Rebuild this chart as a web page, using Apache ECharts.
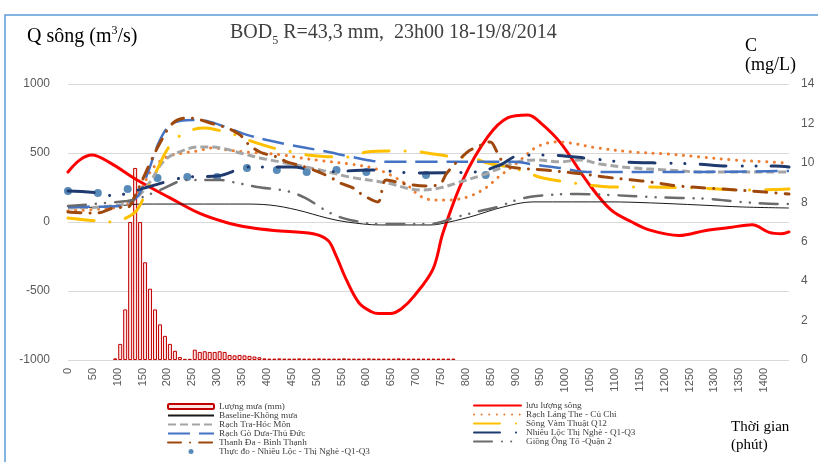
<!DOCTYPE html>
<html><head><meta charset="utf-8">
<script src="https://cdn.jsdelivr.net/npm/echarts@6/dist/echarts.min.js"></script>
<style>html,body{margin:0;padding:0;background:#fff}#c{width:818px;height:462px}</style>
</head><body><div id="c"></div>
<script>
// ---- tick labels ----
const xLabels = [0,50,100,150,200,250,300,350,400,450,500,550,600,650,700,750,800,850,900,950,1000,1050,1100,1150,1200,1250,1300,1350,1400];
const qTicks = [-1000,-500,0,500,1000];
const cTicks = [0,2,4,6,8,10,12,14];

// ---- rainfall (mm), centred in 10-minute bins ----
const rainT = [95,105,115,125,135,145,155,165,175,185,195,205,215,225,235,245,255,265,275,285,295,305,315,325,335,345,355,365,375,385,395,405,415,425,435,445,455,465,475,485,495,505,515,525,535,545,555,565,575,585,595,605,615,625,635,645,655,665,675,685,695,705,715,725,735,745,755,765,775];
const rainMM = [0.07,0.7,2.2,6.0,8.35,6.0,4.25,3.1,2.2,1.55,1.05,0.7,0.4,0.13,0.05,0.05,0.45,0.35,0.38,0.35,0.35,0.38,0.35,0.22,0.2,0.22,0.2,0.18,0.15,0.12,0.07,0.06,0.06,0.07,0.06,0.06,0.06,0.07,0.06,0.06,0.06,0.07,0.06,0.06,0.06,0.06,0.07,0.06,0.06,0.06,0.06,0.07,0.06,0.06,0.06,0.06,0.06,0.07,0.06,0.06,0.06,0.06,0.06,0.06,0.06,0.06,0.06,0.06,0.06];

// ---- river discharge Q (m3/s) ----
const redT = [0,24,48,84,139,205,265,320,366,414,493,523,539,560,585,610,625,648,670,696,734,754,794,844,884,925,951,991,1046,1092,1134,1172,1229,1283,1330,1376,1410,1435,1450];
const redQ = [362,450,485,430,304,175,62,-5,-40,-61,-85,-134,-244,-420,-585,-650,-663,-663,-630,-537,-341,-80,304,616,754,775,717,572,283,87,0,-61,-98,-61,-40,-20,-75,-85,-72];

// ---- BOD5 concentrations (mg/L) ----
const baseT = [0,64,119,145,249,350,406,461,521,561,628,728,748,809,875,935,1090,1171,1271,1358,1450];
const baseC = [7.71,7.76,7.86,7.91,7.91,7.91,7.86,7.61,7.20,7.00,6.85,6.85,6.90,7.26,7.76,8.02,8.02,7.97,7.86,7.76,7.71];

const langT = [0,64,115,145,171,199,231,259,292,320,360,432,467,513,567,613,648,682,708,734,768,809,843,863,903,943,984,1010,1064,1136,1205,1271,1337,1406,1450];
const langC = [7.56,7.66,7.86,8.62,9.74,10.30,10.50,10.60,10.76,10.65,10.55,10.40,10.25,10.10,9.94,9.74,9.39,8.88,8.32,8.12,8.12,8.32,8.78,9.23,9.99,10.81,11.06,11.01,10.76,10.55,10.45,10.30,10.15,10.05,9.99];

const traT = [0,105,139,165,191,219,265,306,346,386,426,507,567,642,708,748,788,835,875,903,943,990,1030,1070,1136,1205,1271,1450];
const traC = [7.71,7.86,8.27,9.03,10.05,10.50,10.81,10.76,10.50,10.25,10.05,9.64,9.28,8.98,8.62,8.73,9.03,9.39,9.79,10.05,10.15,10.05,10.15,9.94,9.74,9.64,9.54,9.54];

const vamT = [0,60,91,121,139,159,179,199,219,249,276,300,326,362,412,451,481,541,567,601,658,692,722,778,813,843,895,925,955,1016,1044,1090,1136,1255,1376,1450];
const vamC = [7.20,7.05,7.00,7.26,7.61,8.62,9.64,10.65,11.26,11.67,11.77,11.67,11.52,11.16,10.76,10.55,10.40,10.30,10.30,10.55,10.60,10.60,10.50,10.30,10.25,9.99,9.74,9.49,9.23,8.98,8.88,8.78,8.78,8.73,8.62,8.68];

const goduaT = [0,105,139,159,185,211,251,286,332,360,400,447,513,571,613,662,728,843,895,943,990,1044,1090,1271,1450];
const goduaC = [7.76,7.81,8.27,9.39,11.16,12.02,12.18,12.08,11.67,11.42,11.16,10.91,10.60,10.30,10.10,10.05,10.05,10.05,10.05,9.89,9.74,9.54,9.54,9.54,9.59];

const nlT = [0,66,91,127,155,242,300,366,452,511,611,694,819,869,904,961,1056,1115,1176,1265,1327,1422,1450];
const nlC = [8.57,8.47,8.32,8.52,8.73,9.28,9.33,9.79,9.79,9.54,9.64,9.49,9.54,9.89,10.35,10.40,10.20,10.05,10.00,9.94,9.84,9.84,9.79];

const tdT = [0,38,60,91,121,131,165,185,211,239,259,286,320,346,360,386,420,440,483,527,547,573,593,623,640,678,722,748,762,803,823,849,863,879,905,959,1016,1050,1080,1136,1171,1227,1311,1402,1450];
const tdC = [7.51,7.46,7.46,7.71,7.76,8.12,9.99,11.01,12.02,12.28,12.23,12.02,11.77,11.42,11.01,10.55,10.30,10.05,9.74,9.28,8.98,8.73,8.37,8.02,9.13,8.93,8.83,8.93,9.49,10.55,10.81,11.06,10.55,9.89,9.74,9.64,9.49,9.39,9.28,9.13,9.03,8.83,8.68,8.52,8.42];

const gotT = [0,119,145,185,239,306,340,380,440,477,527,567,628,728,782,829,863,903,943,1024,1090,1171,1231,1291,1352,1432,1450];
const gotC = [7.81,8.07,8.22,8.62,9.13,9.13,8.98,8.78,8.57,8.22,7.46,7.10,6.90,6.90,7.26,7.56,7.76,8.12,8.32,8.42,8.37,8.27,8.22,8.17,8.02,7.91,7.91];

const obsT = [0,60,120,180,240,300,360,420,480,540,600,720,840];
const obsC = [8.57,8.47,8.68,9.23,9.28,9.28,9.74,9.64,9.54,9.64,9.54,9.39,9.39];

const zip = (a, b) => a.map((v, i) => [v, b[i]]);

const serif = "'Liberation Serif', 'DejaVu Serif', serif";
const sans = "'Liberation Sans', Arial, sans-serif";

function lineS(name, t, v, color, width, type, cap, extra) {
  return Object.assign({
    name, type: 'line', xAxisIndex: 0, yAxisIndex: 1,
    data: zip(t, v), smooth: 0.35, symbol: 'none', showSymbol: false,
    lineStyle: { color, width, type, cap: cap || 'butt' },
    itemStyle: { color },
    emphasis: { disabled: true }, animation: false
  }, extra || {});
}

const series = [
  { name: 'Lượng mưa (mm)', type: 'bar', xAxisIndex: 0, yAxisIndex: 2,
    data: zip(rainT, rainMM), barWidth: 4,
    itemStyle: { color: '#fbe3e3', borderColor: '#c00000', borderWidth: 1 },
    animation: false },
  lineS('lưu lượng sông', redT, redQ, '#ff0000', 3, 'solid', 'round', { yAxisIndex: 0 }),
  lineS('Baseline-Không mưa', baseT, baseC, '#1a1a1a', 1, 'solid'),
  lineS('Rạch Láng The - Củ Chi', langT, langC, '#ed7d31', 3, [0.1, 7.5], 'round'),
  lineS('Rạch Tra-Hóc Môn', traT, traC, '#a5a5a5', 3, [8, 4]),
  lineS('Sông Vàm Thuật Q12', vamT, vamC, '#ffc000', 3, [26, 16, 0.1, 16], 'round'),
  lineS('Rạch Gò Dưa-Thủ Đức', goduaT, goduaC, '#4472c4', 2.5, [22, 9]),
  lineS('Nhiêu Lộc Thị Nghè - Q1-Q3', nlT, nlC, '#1f3a6e', 3, [26, 16, 0.1, 14, 0.1, 15], 'round'),
  lineS('Thanh Đa - Bình Thạnh', tdT, tdC, '#9e480e', 3, [13, 9, 0.1, 9], 'round'),
  lineS('Giồng Ông Tố -Quận 2', gotT, gotC, '#6b6b6b', 2.5, [18, 10, 0.1, 9, 0.1, 10], 'round'),
  { name: 'Thực đo - Nhiêu Lộc - Thị Nghè -Q1-Q3', type: 'scatter', xAxisIndex: 0, yAxisIndex: 1,
    data: zip(obsT, obsC), symbol: 'circle', symbolSize: 8,
    itemStyle: { color: '#2f6ea8' }, animation: false }
];

const legendText = { fontSize: 9.2, fontFamily: serif, color: '#404040', lineHeight: 9 };
const noSym = { opacity: 0 };
const lineItem = n => ({ name: n, itemStyle: noSym });

const option = {
  animation: false,
  backgroundColor: '#ffffff',
  grid: { left: 68, right: 29, top: 84, bottom: 102, containLabel: false },
  xAxis: {
    type: 'value', min: 0, max: 1450, interval: 50,
    axisLine: { show: false }, axisTick: { show: false }, splitLine: { show: false },
    axisLabel: { rotate: 90, fontSize: 11, color: '#595959', fontFamily: sans, margin: 8,
      formatter: v => (xLabels.indexOf(v) >= 0 ? String(v) : '') }
  },
  yAxis: [
    { type: 'value', min: qTicks[0], max: qTicks[qTicks.length - 1], interval: 500, position: 'left',
      axisLine: { show: false }, axisTick: { show: false },
      splitLine: { lineStyle: { color: '#d9d9d9', width: 1 } },
      axisLabel: { fontSize: 12, color: '#595959', fontFamily: sans, margin: 18, formatter: v => String(v) } },
    { type: 'value', min: cTicks[0], max: cTicks[cTicks.length - 1], interval: 2, position: 'right',
      axisLine: { show: false }, axisTick: { show: false }, splitLine: { show: false },
      axisLabel: { fontSize: 12, color: '#595959', fontFamily: sans, margin: 12, formatter: v => String(v) } },
    { type: 'value', min: 0, max: 12, show: false, splitLine: { show: false } }
  ],
  legend: [
    { orient: 'vertical', left: 167, top: 402, itemWidth: 46, itemHeight: 5, itemGap: 0, padding: 0,
      selectedMode: false, textStyle: legendText,
      data: ['Lượng mưa (mm)', lineItem('Baseline-Không mưa'), lineItem('Rạch Tra-Hóc Môn'), lineItem('Rạch Gò Dưa-Thủ Đức'), lineItem('Thanh Đa - Bình Thạnh'), 'Thực đo - Nhiêu Lộc - Thị Nghè -Q1-Q3'] },
    { orient: 'vertical', left: 473, top: 401, itemWidth: 47, itemHeight: 5, itemGap: 0, padding: 0,
      selectedMode: false, textStyle: legendText,
      data: [lineItem('lưu lượng sông'), lineItem('Rạch Láng The - Củ Chi'), lineItem('Sông Vàm Thuật Q12'), lineItem('Nhiêu Lộc Thị Nghè - Q1-Q3'), lineItem('Giồng Ông Tố -Quận 2')] }
  ],
  graphic: [
    { type: 'rect', silent: true, shape: { x: 5, y: 15, width: 840, height: 480 },
      style: { fill: 'none', stroke: '#5b9bd5', lineWidth: 1.5 } },
    { type: 'text', left: 27, top: 23, silent: true,
      style: { text: '{a|Q sông (m}{s|3}{a|/s)}', fill: '#000',
        rich: { a: { fontSize: 20, fontFamily: serif, fill: '#000', lineHeight: 24, verticalAlign: 'bottom' },
                s: { fontSize: 12, fontFamily: serif, fill: '#000', lineHeight: 24, verticalAlign: 'top', padding: [2, 0, 0, 0] } } } },
    { type: 'text', left: 230, top: 23, silent: true,
      style: { text: '{a|BOD}{b|5}{a| R=43,3 mm,  23h00 18-19/8/2014}',
        rich: { a: { fontSize: 20, fontFamily: serif, fill: '#404040', lineHeight: 24, verticalAlign: 'bottom' },
                b: { fontSize: 12, fontFamily: serif, fill: '#404040', lineHeight: 24, verticalAlign: 'bottom', padding: [0, 0, -4, 0] } } } },
    { type: 'text', left: 745, top: 37, silent: true,
      style: { text: 'C', fontSize: 18, fontFamily: serif, fill: '#000' } },
    { type: 'text', left: 745, top: 56, silent: true,
      style: { text: '(mg/L)', fontSize: 18, fontFamily: serif, fill: '#000' } },
    { type: 'text', left: 731, top: 420, silent: true,
      style: { text: 'Thời gian', fontSize: 15, fontFamily: serif, fill: '#000' } },
    { type: 'text', left: 731, top: 438, silent: true,
      style: { text: '(phút)', fontSize: 15, fontFamily: serif, fill: '#000' } }
  ],
  series
};

const chart = echarts.init(document.getElementById('c'), null, { renderer: 'canvas' });
chart.setOption(option);
</script></body></html>
